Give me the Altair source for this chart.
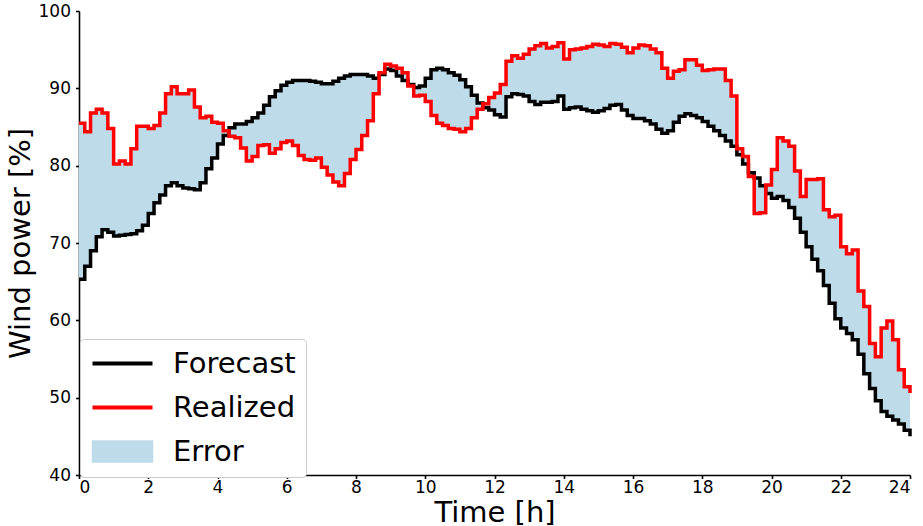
import altair as alt
import pandas as pd

# 10-minute time grid over one day
hours = [round(i / 6, 4) for i in range(145)]

forecast = [
    65.3, 67.0, 69.0, 70.8, 71.7, 71.4,
    70.9, 71.0, 71.1, 71.2, 71.6, 72.3,
    73.8, 75.2, 76.2, 77.4, 77.8, 77.4,
    77.1, 77.0, 76.9, 77.8, 79.6, 81.0,
    82.8, 83.9, 84.9, 85.4, 85.4, 85.7,
    86.2, 86.8, 87.8, 88.9, 89.7, 90.4,
    90.8, 91.0, 91.0, 91.0, 90.9, 90.8,
    90.6, 90.6, 90.9, 91.3, 91.6, 91.8,
    91.8, 91.8, 91.6, 91.3, 91.8, 92.5,
    92.3, 91.6, 91.0, 90.5, 90.1, 90.3,
    91.3, 92.4, 92.6, 92.4, 92.0, 91.7,
    91.1, 90.2, 89.1, 88.1, 87.5, 87.2,
    86.6, 86.3, 88.9, 89.3, 89.2, 89.0,
    88.3, 87.9, 88.2, 88.2, 88.3, 89.0,
    87.3, 87.5, 87.6, 87.3, 87.1, 86.9,
    87.1, 87.4, 87.8, 87.9, 87.2, 86.5,
    86.1, 86.1, 85.8, 85.4, 84.7, 84.2,
    84.5, 85.6, 86.4, 86.7, 86.5, 86.2,
    85.7, 85.1, 84.5, 83.9, 83.2, 82.5,
    81.4, 80.2, 79.1, 78.4, 77.4, 76.4,
    75.8, 76.0, 75.5, 74.6, 73.2, 71.4,
    69.5, 67.9, 66.4, 64.5, 62.2, 60.2,
    59.0, 58.3, 57.5, 55.6, 53.1, 51.2,
    49.6, 48.2, 47.6, 47.1, 46.6, 45.8,
    45.0,
]

realized = [
    85.5, 84.4, 86.8, 87.3, 86.8, 84.8,
    80.2, 80.6, 80.2, 82.2, 85.1, 85.1,
    84.8, 85.2, 86.8, 89.3, 90.2, 89.3,
    89.3, 89.8, 87.6, 86.2, 86.4, 85.6,
    85.5, 84.5, 83.8, 83.6, 82.3, 80.6,
    81.2, 82.6, 82.7, 81.6, 82.2, 83.0,
    83.2, 82.6, 81.3, 80.8, 80.7, 81.0,
    79.8, 78.8, 77.9, 77.4, 79.0, 80.8,
    82.1, 83.9, 85.8, 89.3, 92.0, 93.1,
    92.9, 92.6, 92.0, 90.3, 89.0, 89.1,
    88.3, 86.5, 85.5, 85.2, 84.8, 84.7,
    84.4, 84.8, 86.2, 87.3, 88.0, 88.8,
    89.4, 90.5, 93.5, 94.2, 93.9, 94.4,
    95.1, 95.5, 95.8, 95.2, 95.4, 95.9,
    93.8, 95.0, 95.1, 95.2, 95.4, 95.7,
    95.6, 95.4, 95.8, 95.7, 95.3, 94.6,
    95.2, 95.6, 95.5, 95.1, 94.6, 92.6,
    91.3, 92.2, 92.4, 93.7, 93.7, 93.0,
    92.3, 92.4, 92.5, 92.5, 91.0, 89.0,
    82.2, 81.2, 78.6, 73.8, 73.9, 77.5,
    79.5, 83.6, 83.2, 82.5, 79.3, 76.0,
    78.2, 78.2, 78.3, 74.3, 73.4, 73.6,
    69.5, 68.6, 69.1, 63.8, 61.8, 57.0,
    55.3, 59.0, 59.9, 57.5, 53.6, 51.4,
    50.6,
]

series_names = ["Forecast", "Realized", "Error"]
series_colors = ["black", "red", "#bedbea"]
x_ticks = list(range(0, 25, 2))
y_ticks = list(range(40, 101, 10))

df = pd.DataFrame({"hour": hours, "Forecast": forecast, "Realized": realized})

x_enc = alt.X(
    "hour:Q",
    scale=alt.Scale(domain=[0, 24], nice=False),
    axis=alt.Axis(values=x_ticks, title="Time [h]", labelPadding=1, titlePadding=3),
)
y_scale = alt.Scale(domain=[40, 100], nice=False, zero=False)
y_axis = alt.Axis(values=y_ticks, title="Wind power [%]", labelPadding=5, titlePadding=3)

# one shared legend: line swatches for the two series, a patch for the error band
legend = alt.Legend(
    title=None,
    orient="none",
    legendX=1,
    legendY=328,
    fillColor="white",
    strokeColor="#cccccc",
    cornerRadius=4,
    padding=10,
    labelFontSize=29,
    labelColor="black",
    labelOffset=54,
    rowPadding=14,
    symbolSize=400,
    symbolOpacity=1,
    symbolType={"expr": "datum.value === 'Error' ? 'M-1.2,-1.05H4.8V1.05H-1.2Z' : 'M-1.2,0H4.8'"},
    symbolFillColor={"expr": "datum.value === 'Error' ? '#bedbea' : 'transparent'"},
    symbolStrokeColor={"expr": "datum.value === 'Forecast' ? 'black' : datum.value === 'Realized' ? 'red' : '#808080'"},
    symbolStrokeWidth={"expr": "datum.value === 'Error' ? 1.5 : 4"},
)
color_enc = alt.Color(
    "series:N",
    scale=alt.Scale(domain=series_names, range=series_colors),
    legend=legend,
)

base = alt.Chart(df)

band = base.transform_calculate(series="'Error'").mark_area(
    interpolate="step-after", opacity=1
).encode(
    x=x_enc,
    y=alt.Y("Forecast:Q", scale=y_scale, axis=y_axis),
    y2="Realized:Q",
    color=color_enc,
)

forecast_line = base.transform_calculate(series="'Forecast'").mark_line(
    interpolate="step-after", strokeWidth=3.5
).encode(
    x=x_enc,
    y=alt.Y("Forecast:Q", scale=y_scale, axis=y_axis),
    color=color_enc,
)

realized_line = base.transform_calculate(series="'Realized'").mark_line(
    interpolate="step-after", strokeWidth=3.5
).encode(
    x=x_enc,
    y=alt.Y("Realized:Q", scale=y_scale, axis=y_axis),
    color=color_enc,
)

chart = (
    alt.layer(band, forecast_line, realized_line)
    .properties(
        width=831,
        height=464,
        autosize="none",
        padding={"left": 79, "top": 11, "right": 13, "bottom": 51},
    )
    .configure(font="DejaVu Sans")
    .configure_axis(
        grid=False,
        domainColor="black",
        domainWidth=1.6,
        tickColor="black",
        tickWidth=1.6,
        tickSize=3.5,
        labelFontSize=17,
        labelColor="black",
        titleFontSize=29,
        titleFontWeight="normal",
        titleColor="black",
    )
    .configure_view(stroke=None)
)

chart.save("out.html", embed_options={"renderer": "svg", "actions": False})
